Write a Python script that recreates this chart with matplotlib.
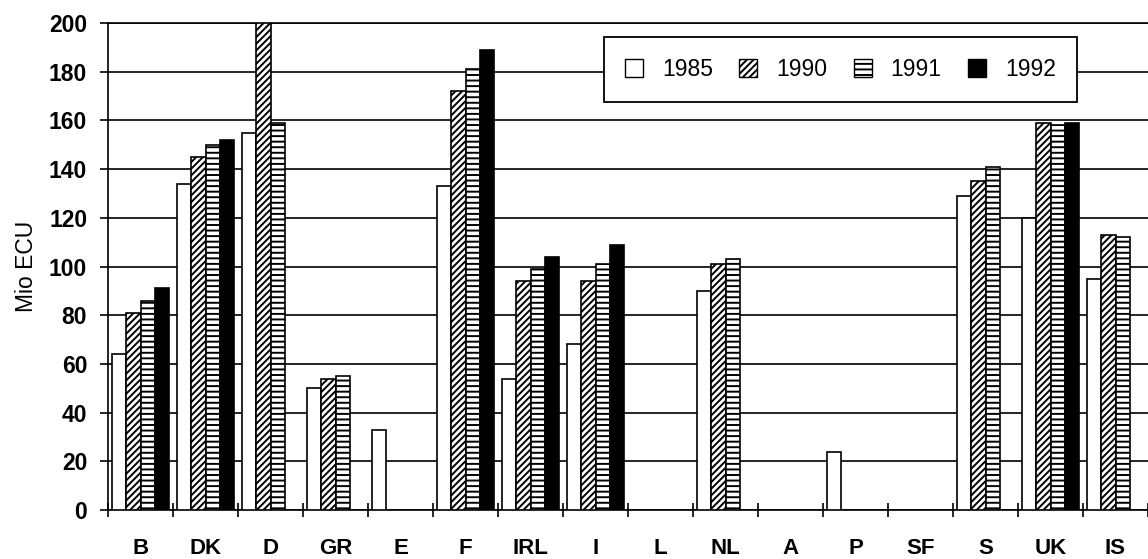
import numpy as np
import matplotlib
matplotlib.use("Agg")
import matplotlib.pyplot as plt
from matplotlib.patches import Patch

plt.rcParams['font.family'] = ['Liberation Sans', 'DejaVu Sans']
plt.rcParams['hatch.linewidth'] = 1.4
plt.rcParams['hatch.color'] = 'black'

countries = ["B", "DK", "D", "GR", "E", "F", "IRL", "I", "L", "NL", "A", "P", "SF", "S", "UK", "IS"]
years = ["1985", "1990", "1991", "1992"]
nan = np.nan
v1985 = [64, 134, 155, 50, 33, 133, 54, 68, nan, 90, nan, 24, nan, 129, 120, 95]
v1990 = [81, 145, 200, 54, nan, 172, 94, 94, nan, 101, nan, nan, nan, 135, 159, 113]
v1991 = [86, 150, 159, 55, nan, 181, 99, 101, nan, 103, nan, nan, nan, 141, 158, 112]
v1992 = [91, 152, nan, nan, nan, 189, 104, 109, nan, nan, nan, nan, nan, nan, 159, nan]
series = [v1985, v1990, v1991, v1992]

styles = [
    dict(facecolor='white', hatch=None),
    dict(facecolor='white', hatch='/////'),
    dict(facecolor='white', hatch='---'),
    dict(facecolor='black', hatch=None),
]

W, H = 1148, 559
fig = plt.figure(figsize=(W / 100, H / 100), dpi=100)
ax_left, ax_right, ax_top, ax_bot = 108, 1148, 23, 510
ax = fig.add_axes([ax_left / W, (H - ax_bot) / H, (ax_right - ax_left) / W, (ax_bot - ax_top) / H])

cat_px = 65.62
n = len(countries)
x = np.arange(n) + 0.5
bw = 0.221
for k, (vals, st) in enumerate(zip(series, styles)):
    vals = np.array(vals, dtype=float)
    mask = ~np.isnan(vals)
    ax.bar(x[mask] + (k - 1.5) * bw, vals[mask], width=bw, edgecolor='black',
           linewidth=1.2, zorder=3, **st)

ax.set_xlim(0, (ax_right - ax_left) / cat_px)
ax.set_ylim(0, 200)
ax.set_yticks(np.arange(0, 201, 20))
ax.yaxis.grid(True, color='black', linewidth=1.2, zorder=0)
ax.set_axisbelow(True)

ax.set_xticks(np.arange(0, n + 1))
ax.set_xticklabels([])
ax.set_xticks(x, minor=True)
ax.set_xticklabels(countries, minor=True, fontsize=16, fontweight='bold')
ax.tick_params(axis='x', which='major', direction='inout', length=9.5, width=1.2)
ax.tick_params(axis='x', which='minor', length=0, pad=20)
ax.tick_params(axis='y', direction='out', length=6, width=1.2, pad=9, labelsize=16.5)
for lab in ax.get_yticklabels():
    lab.set_fontweight('bold')

ax.spines['right'].set_visible(False)
for s in ['left', 'bottom', 'top']:
    ax.spines[s].set_linewidth(1.2)

ax.set_ylabel("Mio ECU", fontsize=16.5, labelpad=8)

handles = [Patch(edgecolor='black', linewidth=1.0, **st) for st in styles]
leg = ax.legend(handles, years, ncol=4, loc='upper left',
                bbox_to_anchor=(604 / W, 1 - 37 / H), bbox_transform=fig.transFigure,
                fontsize=16.5, frameon=True, fancybox=False, shadow=False,
                edgecolor='black', framealpha=1, borderaxespad=0,
                handlelength=0.79, handleheight=0.79, handletextpad=0.83,
                columnspacing=1.14, borderpad=0.92)
leg.get_frame().set_linewidth(1.3)
leg.set_zorder(5)

fig.savefig("out.png", dpi=100)
